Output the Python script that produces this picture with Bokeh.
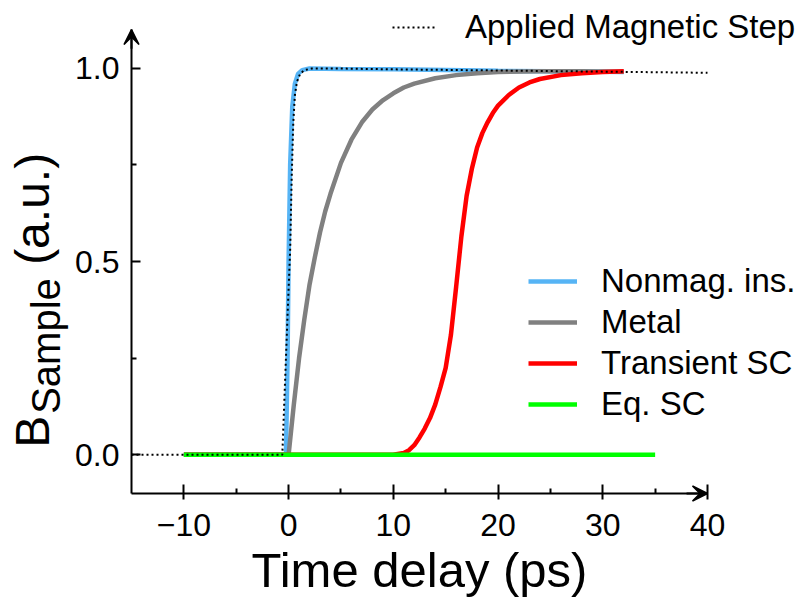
import numpy as np
from bokeh.plotting import figure
from bokeh.models import (FixedTicker, Legend, LegendItem, Label, Arrow, VeeHead, Range1d,
                          LinearAxis)
from bokeh.embed import file_html
from bokeh.resources import INLINE

# Applied magnetic step (reference field), time in ps, field normalised
step_t = [-15, -0.6, -0.35, -0.1, 0.15, 0.3, 0.45, 0.6, 0.8, 1.1, 1.5, 2.2, 5, 10, 20, 30, 40]
step_b = [0.0, 0.0, 0.18, 0.36, 0.53, 0.72, 0.86, 0.93, 0.965, 0.985, 0.995, 0.999, 0.999, 0.997, 0.994, 0.991, 0.988]

# Nonmagnetic insulator
nonmag_t = [-10, -0.25, -0.1, 0.0, 0.15, 0.35, 0.6, 0.9, 1.3, 2.0, 5, 10, 15, 20, 25, 32]
nonmag_b = [0.0, 0.0, 0.25, 0.5, 0.75, 0.9, 0.96, 0.985, 0.995, 0.999, 0.998, 0.997, 0.995, 0.993, 0.992, 0.99]

# Metal
metal_t = [-10, 0, 0.5, 1, 1.5, 2, 2.5, 3, 3.5, 4, 5, 6, 7, 8, 9, 10, 11, 12, 14, 16, 18, 20, 24, 28, 32]
metal_b = [0.0, 0.0, 0.13, 0.25, 0.35, 0.44, 0.51, 0.575, 0.63, 0.675, 0.755, 0.815, 0.86, 0.893, 0.917,
           0.935, 0.95, 0.96, 0.974, 0.982, 0.987, 0.99, 0.992, 0.992, 0.991]

# Transient superconductor
trans_t = [-10, 10, 11, 11.5, 12, 12.5, 13, 13.5, 14, 14.5, 15, 15.5, 16, 16.5, 17, 17.5, 18, 18.5,
           19, 19.5, 20, 21, 22, 23, 24, 26, 28, 30, 32]
trans_b = [0.0, 0.0, 0.005, 0.012, 0.025, 0.045, 0.068, 0.095, 0.13, 0.175, 0.225, 0.31, 0.435, 0.565,
           0.67, 0.74, 0.795, 0.832, 0.86, 0.884, 0.903, 0.93, 0.95, 0.963, 0.972, 0.982, 0.987, 0.99, 0.992]

# Equilibrium superconductor
eq_t = [-10, 35]
eq_b = [0.0, 0.0]

x_ticks = [-10, 0, 10, 20, 30, 40]
x_minor = [-5, 5, 15, 25, 35]
x_tick_labels = ["\u221210", "0", "10", "20", "30", "40"]
y_ticks = [0.0, 0.5, 1.0]
y_minor = [0.25, 0.75]
y_tick_labels = ["0.0", "0.5", "1.0"]

series_labels = ["Nonmag. ins.", "Metal", "Transient SC", "Eq. SC"]
series_colors = ["#56B4F5", "#808080", "#FF0000", "#00FF00"]
step_label = "Applied Magnetic Step"

FONT = "Liberation Sans"
W, H = 805, 599
# axis extents (data) and where they sit on the canvas (pixels)
X0, X1 = -15, 40
Y0, Y1 = -0.1, 1.1
AX_LEFT, AX_RIGHT, AX_TOP, AX_BOTTOM = 131, 707, 29, 493

sx = (AX_RIGHT - AX_LEFT) / (X1 - X0)
sy = (AX_BOTTOM - AX_TOP) / (Y1 - Y0)
x_range = Range1d(X0 - AX_LEFT / sx, X1 + (W - AX_RIGHT) / sx)
y_range = Range1d(Y0 - (H - AX_BOTTOM) / sy, Y1 + AX_TOP / sy)

p = figure(width=W, height=H, x_range=x_range, y_range=y_range,
           x_axis_type=None, y_axis_type=None,
           output_backend="svg", toolbar_location=None, min_border=0)
p.grid.visible = False
p.outline_line_color = None
p.background_fill_color = "white"
p.border_fill_color = "white"

xaxis = LinearAxis(fixed_location=Y0, bounds=(X0, X1),
                   ticker=FixedTicker(ticks=x_ticks, minor_ticks=x_minor),
                   major_label_overrides=dict(zip(x_ticks, x_tick_labels)),
                   major_tick_in=9, major_tick_out=6, minor_tick_in=5, minor_tick_out=0,
                   major_label_standoff=14)
yaxis = LinearAxis(fixed_location=X0, bounds=(Y0, Y1),
                   ticker=FixedTicker(ticks=y_ticks, minor_ticks=y_minor),
                   major_label_overrides=dict(zip(y_ticks, y_tick_labels)),
                   major_tick_in=9, major_tick_out=0, minor_tick_in=5, minor_tick_out=0,
                   major_label_standoff=12)
for ax in (xaxis, yaxis):
    ax.axis_line_width = 2
    ax.axis_line_color = "black"
    ax.major_tick_line_width = 2
    ax.minor_tick_line_width = 2
    ax.major_tick_line_color = "black"
    ax.minor_tick_line_color = "black"
    ax.major_label_text_font = FONT
    ax.major_label_text_font_size = "32px"
    ax.major_label_text_color = "black"
p.add_layout(xaxis, "below")
p.add_layout(yaxis, "left")

# curves
LW = 4.5
r_nonmag = p.line(nonmag_t, nonmag_b, line_color=series_colors[0], line_width=LW)
r_metal = p.line(metal_t, metal_b, line_color=series_colors[1], line_width=LW)
r_trans = p.line(trans_t, trans_b, line_color=series_colors[2], line_width=LW)
r_eq = p.line(eq_t, eq_b, line_color=series_colors[3], line_width=LW)
r_step = p.line(step_t, step_b, line_color="black", line_width=2, line_dash="2 3")

# axis arrows
def arrow_head():
    return VeeHead(size=15, fill_color="black", line_color="black", line_width=1.5)

p.add_layout(Arrow(end=arrow_head(), x_start=X0, y_start=Y1 - 0.05, x_end=X0, y_end=Y1,
                   line_width=2, line_color="black"))
p.add_layout(Arrow(end=arrow_head(), x_start=X1 - 2, y_start=Y0, x_end=X1, y_end=Y0,
                   line_width=2, line_color="black"))

def make_legend(items, loc, gw, standoff):
    return Legend(items=items, location=loc, glyph_width=gw, glyph_height=40, label_height=40,
                  label_standoff=standoff, spacing=1, padding=0, margin=0,
                  border_line_color=None, background_fill_alpha=0,
                  label_text_font=FONT, label_text_font_size="33px", label_text_color="black")

leg_step = make_legend([LegendItem(label=step_label, renderers=[r_step])], (392, H - 47), 45, 28)
leg_series = make_legend([LegendItem(label=lab, renderers=[r]) for lab, r in
                          zip(series_labels, [r_nonmag, r_metal, r_trans, r_eq])], (528, H - 424), 49, 24)
p.add_layout(leg_step)
p.add_layout(leg_series)

# x axis title
p.add_layout(Label(x=(X0 + X1) / 2, y=Y0, y_offset=-76, text="Time delay (ps)",
                   text_align="center", text_baseline="alphabetic",
                   text_font=FONT, text_font_size="49px", text_color="black"))

# y axis title with subscript, drawn as rotated pieces
BIG, SUB = 48, 40
yo = 7
p.add_layout(Label(x=X0, y=0, x_offset=-99, y_offset=yo, text="B", angle=np.pi / 2,
                   text_align="left", text_baseline="alphabetic",
                   text_font=FONT, text_font_size=f"{BIG}px", text_color="black"))
yo += 0.667 * BIG + 2
p.add_layout(Label(x=X0, y=0, x_offset=-86, y_offset=yo, text="Sample", angle=np.pi / 2,
                   text_align="left", text_baseline="alphabetic",
                   text_font=FONT, text_font_size=f"{SUB}px", text_color="black"))
yo += 3.39 * SUB + 0.278 * BIG
p.add_layout(Label(x=X0, y=0, x_offset=-99, y_offset=yo, text="(a.u.)", angle=np.pi / 2,
                   text_align="left", text_baseline="alphabetic",
                   text_font=FONT, text_font_size=f"{BIG}px", text_color="black"))

open("out.html", "w").write(file_html(p, INLINE))
